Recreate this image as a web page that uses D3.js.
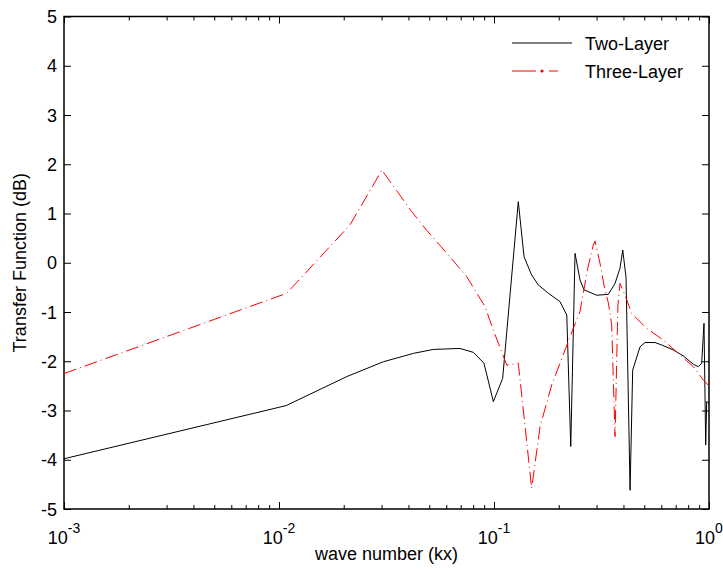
<!DOCTYPE html>
<html>
<head>
<meta charset="utf-8">
<script src="https://cdn.jsdelivr.net/npm/d3@7"></script>
<style>
  body { margin: 0; background: #fff; }
  text { font-family: "Liberation Sans", Arial, sans-serif; fill: #000; }
</style>
</head>
<body>
<svg id="chart" width="723" height="569"></svg>
<script>
// wave number values and transfer function (dB)
var twoLayerK = [0.001, 0.0108, 0.0207, 0.0306, 0.0422, 0.0522, 0.0695, 0.0802, 0.0898, 0.0993,
  0.1097, 0.1297, 0.138, 0.1497, 0.1607, 0.179, 0.2028, 0.218, 0.2275, 0.2382,
  0.2512, 0.2623, 0.3006, 0.3404, 0.3656, 0.3855, 0.397, 0.4113, 0.4295, 0.4416,
  0.4775, 0.5035, 0.561, 0.6026, 0.6823, 0.7586, 0.8453, 0.8913, 0.9245, 0.9478,
  0.9653, 0.9757, 1.0]
var twoLayerDb = [-3.98, -2.90, -2.31, -2.01, -1.84, -1.76, -1.74, -1.82, -2.04, -2.82,
  -2.35, 1.24, 0.12, -0.25, -0.45, -0.62, -0.79, -1.06, -3.73, 0.19,
  -0.35, -0.55, -0.66, -0.64, -0.42, -0.11, 0.26, -0.30, -4.62, -2.18,
  -1.71, -1.62, -1.62, -1.67, -1.77, -1.89, -2.06, -2.11, -2.04, -1.23,
  -3.70, -2.82, -2.85]

var threeLayerK = [0.001, 0.01086, 0.0214, 0.0301, 0.0414, 0.0486, 0.0624, 0.0746, 0.0908, 0.0993,
  0.1147, 0.1297, 0.1497, 0.1637, 0.1855, 0.2028, 0.2339, 0.2512, 0.2729, 0.2897,
  0.2950, 0.3112, 0.326, 0.3404, 0.3527, 0.3656, 0.3770, 0.3855, 0.4064, 0.4365,
  0.5125, 0.6133, 0.7199, 0.8453, 0.9408, 1.0]
var threeLayerDb = [-2.25, -0.62, 0.77, 1.88, 1.04, 0.66, 0.12, -0.28, -0.89, -1.37,
  -2.08, -2.04, -4.58, -3.33, -2.48, -2.04, -1.33, -0.99, -0.11, 0.36,
  0.44, -0.01, -0.49, -0.82, -1.26, -3.53, -0.86, -0.42, -0.65, -1.03,
  -1.33, -1.57, -1.84, -2.11, -2.38, -2.50]

var xMajor = [0.001, 0.01, 0.1, 1]
var xMajorExp = ["-3", "-2", "-1", "0"]
var yTicks = [-5, -4, -3, -2, -1, 0, 1, 2, 3, 4, 5]
var seriesNames = ["Two-Layer", "Three-Layer"]

var padL = 64, padR = 709, padT = 16.5, padB = 509
var svg = d3.select("#chart")

var x = d3.scaleLog().domain([0.001, 1]).range([padL, padR])
var y = d3.scaleLinear().domain([-5, 5]).range([padB, padT])

var xMinor = x.ticks().filter(function(d){ return xMajor.indexOf(d) < 0 })

// ticks, all pointing inside the box
function drawAxis(axis, tx, ty) {
  var g = svg.append("g").attr("transform", "translate(" + tx + "," + ty + ")").call(axis)
  g.select(".domain").remove()
  g.selectAll("text").remove()
  g.selectAll("line").attr("stroke", "#000").attr("stroke-width", 1)
}
drawAxis(d3.axisBottom(x).tickValues(xMajor).tickSize(-7), 0, padB)
drawAxis(d3.axisBottom(x).tickValues(xMinor).tickSize(-4), 0, padB)
drawAxis(d3.axisTop(x).tickValues(xMajor).tickSize(-7), 0, padT)
drawAxis(d3.axisTop(x).tickValues(xMinor).tickSize(-4), 0, padT)
drawAxis(d3.axisLeft(y).tickValues(yTicks).tickSize(-7), padL, 0)
drawAxis(d3.axisRight(y).tickValues(yTicks).tickSize(-7), padR, 0)

svg.append("rect")
  .attr("x", padL).attr("y", padT)
  .attr("width", padR - padL).attr("height", padB - padT)
  .attr("fill", "none").attr("stroke", "#000").attr("stroke-width", 1.5)

// y tick labels
svg.append("g").selectAll("text").data(yTicks).enter().append("text")
  .attr("x", padL - 7).attr("y", function(d){ return y(d) + 6.5 })
  .attr("text-anchor", "end").attr("font-size", 18)
  .text(function(d){ return d })

// x tick labels, 10 with superscript exponent
var xl = svg.append("g").selectAll("text").data(xMajor).enter().append("text")
  .attr("x", function(d){ return x(d) }).attr("y", padB + 35)
  .attr("text-anchor", "middle").attr("font-size", 18)
xl.append("tspan").text("10")
xl.append("tspan").attr("dy", -11).attr("font-size", 14).text(function(d, i){ return xMajorExp[i] })

svg.append("text").attr("x", (padL + padR) / 2).attr("y", 560)
  .attr("text-anchor", "middle").attr("font-size", 18).text("wave number (kx)")
svg.append("text").attr("transform", "translate(26," + ((padT + padB) / 2) + ") rotate(-90)")
  .attr("text-anchor", "middle").attr("font-size", 18).text("Transfer Function (dB)")

var line = d3.line().x(function(d){ return x(d[0]) }).y(function(d){ return y(d[1]) })
var plot = svg.append("g")
plot.append("path").datum(d3.zip(twoLayerK, twoLayerDb))
  .attr("d", line).attr("fill", "none").attr("stroke", "#000").attr("stroke-width", 1)
plot.append("path").datum(d3.zip(threeLayerK, threeLayerDb))
  .attr("d", line).attr("fill", "none").attr("stroke", "#ff0000").attr("stroke-width", 1)
  .attr("stroke-dasharray", "13,4,1,4")

// legend
var lg = svg.append("g")
lg.append("line").attr("x1", 512).attr("x2", 572).attr("y1", 43).attr("y2", 43)
  .attr("stroke", "#000").attr("stroke-width", 1)
lg.append("line").attr("x1", 512).attr("x2", 536).attr("y1", 71).attr("y2", 71)
  .attr("stroke", "#ff0000").attr("stroke-width", 1)
lg.append("circle").attr("cx", 542).attr("cy", 71).attr("r", 1.6).attr("fill", "#ff0000")
lg.append("line").attr("x1", 549).attr("x2", 558).attr("y1", 71).attr("y2", 71)
  .attr("stroke", "#ff0000").attr("stroke-width", 1)
lg.selectAll("text").data(seriesNames).enter().append("text")
  .attr("x", 585).attr("y", function(d, i){ return 49.5 + i * 28 })
  .attr("font-size", 18).text(function(d){ return d })
</script>
</body>
</html>
